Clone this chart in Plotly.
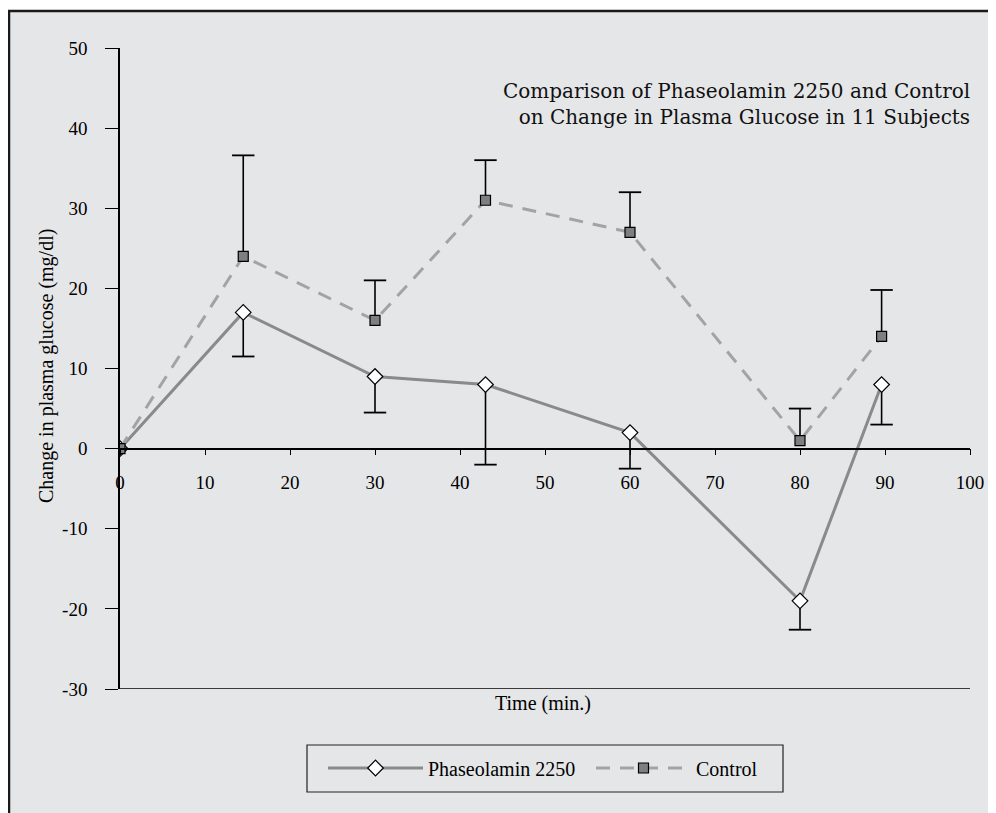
import plotly.graph_objects as go

# ---- data ----
time_min = [0, 14.5, 30, 43, 60, 80, 89.6]
phase_vals = [0, 17, 9, 8, 2, -19, 8]
phase_err_minus = [0, 5.5, 4.5, 10, 4.5, 3.6, 5]
ctrl_vals = [0, 24, 16, 31, 27, 1, 14]
ctrl_err_plus = [0, 12.6, 5, 5, 5, 4, 5.8]
x_ticks = [0, 10, 20, 30, 40, 50, 60, 70, 80, 90, 100]
y_ticks = [-30, -20, -10, 0, 10, 20, 30, 40, 50]
y_tick_labels = ["-30", "-20", "-10", "0", "10", "20", "30", "40", "50"]

BG = "#e5e6e8"
FONT = "Liberation Serif"

# page has an 8px body margin; figure sized to fit the window
OFF = 8
W, H = 988, 805
L, R, T, B = 112, 26, 40, 124
PW, PH = W - L - R, H - T - B


def px(sx):
    return (sx - OFF - L) / PW


def py(sy):
    return (H - B - (sy - OFF)) / PH


fig = go.Figure()


def err_segments(xs, ys, errs, sign):
    sx, sy, cx, cy = [], [], [], []
    for x, y, e in zip(xs, ys, errs):
        if e <= 0:
            continue
        end = y + sign * e
        sx += [x, x, None]
        sy += [y, end, None]
        cx.append(x)
        cy.append(end)
    return sx, sy, cx, cy


for vals, errs, sign in [(phase_vals, phase_err_minus, -1), (ctrl_vals, ctrl_err_plus, 1)]:
    sx, sy, cx, cy = err_segments(time_min, vals, errs, sign)
    fig.add_trace(go.Scatter(x=sx, y=sy, mode="lines", line=dict(color="black", width=1.6),
                             showlegend=False, hoverinfo="skip"))
    fig.add_trace(go.Scatter(x=cx, y=cy, mode="markers",
                             marker=dict(symbol="line-ew", size=16, line=dict(color="black", width=1.8)),
                             showlegend=False, hoverinfo="skip"))

fig.add_trace(go.Scatter(
    x=time_min, y=phase_vals, name="Phaseolamin 2250", mode="lines+markers",
    line=dict(color="#8a8a8a", width=3),
    marker=dict(symbol="diamond", size=12, color="white", line=dict(color="black", width=1.2)),
))
fig.add_trace(go.Scatter(
    x=time_min, y=ctrl_vals, name="Control", mode="lines+markers",
    line=dict(color="#a3a3a3", width=3, dash="14px,10px"),
    marker=dict(symbol="square", size=10, color="#7f7f7f", line=dict(color="black", width=1.2)),
))

fig.update_layout(
    width=W, height=H,
    margin=dict(l=L, r=R, t=T, b=B),
    paper_bgcolor="white",
    plot_bgcolor="rgba(0,0,0,0)",
    font=dict(family=FONT, size=19, color="black"),
    xaxis=dict(range=[0, 100], tickvals=x_ticks, anchor="free", position=30 / 80,
               showline=True, linecolor="black", linewidth=1.5, ticks="outside", ticklen=6,
               tickcolor="black", tickwidth=1.2, showgrid=False, zeroline=False,
               ticklabelstandoff=11, tickfont=dict(family=FONT, size=19)),
    yaxis=dict(range=[-30, 50], tickvals=y_ticks, ticktext=y_tick_labels,
               showline=True, linecolor="black", linewidth=1.5, ticks="outside", ticklen=13,
               tickcolor="black", tickwidth=1.2, showgrid=False, zeroline=False,
               ticklabelstandoff=14, tickfont=dict(family=FONT, size=19)),
    legend=dict(orientation="h", x=px(323), xanchor="left", y=py(768), yanchor="middle",
                borderwidth=0, bgcolor="rgba(0,0,0,0)",
                font=dict(family=FONT, size=20), itemwidth=95, entrywidth=158,
                entrywidthmode="pixels"),
    showlegend=True,
)

# background panel with frame (left and top edges visible)
fig.add_shape(type="rect", xref="paper", yref="paper", x0=px(9), x1=px(1010), y0=py(830), y1=py(11),
              fillcolor=BG, line=dict(color="#1a1a1a", width=2.5), layer="below")
# bottom line of plot area at y=-30
fig.add_shape(type="line", xref="paper", yref="y", x0=0, x1=1, y0=-30, y1=-30,
              line=dict(color="black", width=1.5))
# legend frame
fig.add_shape(type="rect", xref="paper", yref="paper", x0=px(307), x1=px(783), y0=py(792), y1=py(745),
              line=dict(color="#222", width=1.2), fillcolor="rgba(0,0,0,0)")

fig.add_annotation(text="Comparison of Phaseolamin 2250 and Control<br>on Change in Plasma Glucose in 11 Subjects",
                   xref="paper", yref="paper", x=px(972), y=py(104), xanchor="right", yanchor="middle",
                   align="right", showarrow=False, font=dict(family="DejaVu Serif", size=20, color="#111"))
fig.add_annotation(text="Change in plasma glucose (mg/dl)", xref="paper", yref="paper",
                   x=px(46), y=py(366), xanchor="center", yanchor="middle", textangle=-90,
                   showarrow=False, font=dict(family=FONT, size=20))
fig.add_annotation(text="Time (min.)", xref="paper", yref="paper", x=px(543), y=py(717),
                   showarrow=False, font=dict(family=FONT, size=20))

fig.write_html("out.html")
